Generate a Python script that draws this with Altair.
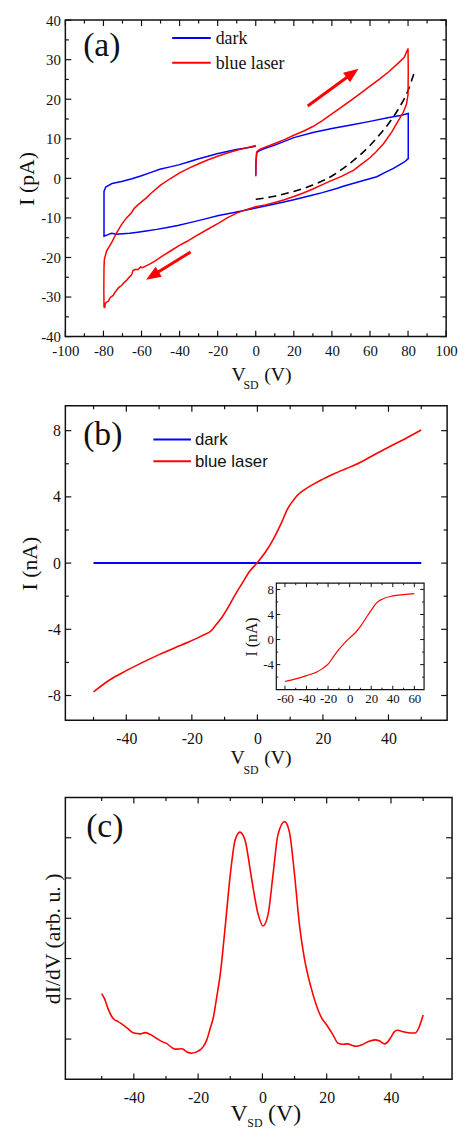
import math
import altair as alt
import pandas as pd

SERIF = "Liberation Serif"
SANS = "Liberation Sans"
BLUE = "#0000ff"
RED = "#ff0000"
INK = "#111111"

# ---------------- panel (a): pA hysteresis loops ----------------
a_dark_v = [0, 0.1, 0.5, 2, 5, 10, 20, 30, 40, 50, 60, 70, 76, 80.1, 80.1, 80.1, 78.3, 75, 72.3, 68,
            63.6, 57, 51.5, 46, 42.9, 35, 30, 20, 10, 0, -10, -19.5, -27, -35.1, -41, -47.2, -52, -57.6, -62, -66.2,
            -70, -73, -75.7, -77, -78.5, -79.7, -79.7, -79.7, -78.8, -77, -75.5, -70.5, -65, -60.4, -55, -50.4, -45, -40.5, -35, -30.4,
            -25, -20.4, -15, -10.2, -5, 0]
a_dark_i = [0.7, 4.0, 6.5, 7.0, 7.6, 8.4, 10.3, 11.6, 12.6, 13.5, 14.4, 15.4, 15.9, 16.4, 10.0, 5.0, 4.2, 3.3, 2.5, 1.5,
            0.4, -0.5, -1.25, -2.0, -2.5, -3.6, -4.2, -5.4, -6.5, -7.5, -8.5, -9.4, -10.3, -11.25, -11.9, -12.5, -12.9, -13.3, -13.6, -13.9,
            -14.0, -14.1, -13.9, -14.1, -14.4, -14.6, -8.0, -3.3, -2.2, -1.7, -1.3, -0.8, -0.1, 0.6, 1.5, 2.3, 2.9, 3.4, 4.2, 4.9,
            5.6, 6.2, 6.8, 7.3, 7.7, 8.1]
a_laser_v = [0, 0.1, 0.5, 2, 5, 10, 15, 20, 25, 30,
             35, 40, 45, 50, 55, 60, 65, 70, 75, 78,
             80, 80.1, 80, 79.2, 77.5, 74.9, 71.4, 67.1, 63, 60,
             55, 51.5, 45, 40, 35, 30, 25, 20, 15, 10,
             5, 0, -5, -10, -15, -19.5, -25, -31.6, -36, -40.3,
             -44.6, -48.9, -53, -55.5, -57.6, -59.5, -60.5, -61.9, -63, -64.5,
             -65.2, -66.5, -67.9, -69.5, -70.5, -72, -73.1, -74.2, -74.9, -75.8,
             -76.6, -77.3, -78.3, -79.0, -79.3, -79.7, -79.8, -79.7, -79.5, -78.3,
             -75.7, -73.1, -70.5, -67.9, -65.4, -64, -61.9, -57.6, -55, -50,
             -45, -40, -35, -30, -25, -20, -15, -10, -5, 0]
a_laser_i = [0.5, 3.5, 6.7, 7.3, 7.9, 8.8, 9.8, 10.9, 11.9, 13.1,
             14.6, 16.3, 18.0, 19.7, 21.5, 23.3, 25.1, 27.0, 29.2, 30.6,
             32.8, 27.0, 21.3, 18.8, 16.7, 14.6, 11.7, 8.75, 6.6, 5.2,
             3.4, 2.1, 0.5, -0.5, -1.6, -2.7, -3.7, -4.6, -5.4, -6.1,
             -6.7, -7.2, -7.9, -8.8, -10.0, -11.3, -12.8, -14.6, -15.9, -17.0,
             -18.3, -19.6, -20.9, -21.6, -22.1, -22.6, -22.4, -23.1, -23.0, -23.3,
             -24.4, -25.0, -25.8, -26.5, -27.1, -27.6, -28.3, -29.0, -29.6, -29.9,
             -30.25, -31.0, -31.25, -31.6, -32.6, -32.5, -28.0, -22.5, -20.4, -18.3,
             -16.25, -13.75, -11.7, -10.0, -8.75, -7.7, -6.7, -5.0, -3.75, -1.7,
             -0.1, 1.4, 2.6, 3.7, 4.7, 5.6, 6.4, 7.1, 7.7, 8.3]
a_fit_v = [0, 10, 20, 30, 40, 45, 50, 55, 60, 65, 70, 75, 80, 83.5]
a_fit_i = [-5.3, -4.5, -3.3, -1.7, 0.6, 2.2, 4.0, 6.0, 8.3, 11.0, 14.0, 17.6, 22.2, 27.1]
a_arrow_tail_v = [27.3, -34.2]
a_arrow_tail_i = [18.3, -18.6]
a_arrow_tip_v = [54.0, -57.6]
a_arrow_tip_i = [27.7, -25.6]
a_xdom = [-100, 100]
a_ydom = [-40, 40]
a_xticks = [-100, -80, -60, -40, -20, 0, 20, 40, 60, 80, 100]
a_xminor = [-90, -70, -50, -30, -10, 10, 30, 50, 70, 90]
a_yticks = [-40, -30, -20, -10, 0, 10, 20, 30, 40]
a_yminor = [-35, -25, -15, -5, 5, 15, 25, 35]

# ---------------- panel (b): nA I-V ----------------
b_dark_v = [-50, 50]
b_dark_i = [0, 0]
b_laser_v = [-50, -45, -40, -35, -30, -25, -21, -17, -14, -12.5,
             -10.8, -9.3, -7.8, -6.3, -4.8, -2.3, 0, 2.3, 4.8, 7.3,
             9.3, 11, 12.3, 14.5, 17.4, 20, 23.4, 27, 30, 35,
             40, 45, 50]
b_laser_i = [-7.78, -7.05, -6.5, -6.0, -5.53, -5.1, -4.77, -4.4, -4.07, -3.7,
             -3.27, -2.8, -2.27, -1.75, -1.27, -0.48, 0.03, 0.62, 1.42, 2.41,
             3.31, 3.8, 4.11, 4.45, 4.8, 5.07, 5.4, 5.7, 5.95, 6.47,
             7.0, 7.5, 8.04]
b_xdom = [-58.6, 57.9]
b_ydom = [-9.5, 9.5]
b_xticks = [-40, -20, 0, 20, 40]
b_xminor = [-50, -30, -10, 10, 30, 50]
b_yticks = [-8, -4, 0, 4, 8]
b_yminor = [-6, -2, 2, 6]

# inset of (b)
ins_v = [-60, -50, -40, -30, -25, -20, -15, -10, -5, 0, 5, 10, 15, 20, 25, 30, 40, 50, 60]
ins_i = [-6.7, -6.28, -5.76, -5.13, -4.6, -3.93, -2.72, -1.57, -0.6, 0.26, 1.05, 2.1, 3.4, 4.7, 5.86, 6.44, 6.96, 7.17, 7.33]
ins_xdom = [-68, 69]
ins_ydom = [-8, 9]
ins_xticks = [-60, -40, -20, 0, 20, 40, 60]
ins_xminor = [-50, -30, -10, 10, 30, 50]
ins_yticks = [-4, 0, 4, 8]
ins_yminor = [-6, -2, 2, 6]

# ---------------- panel (c): dI/dV ----------------
c_v = [-50, -49, -48, -47, -46, -45, -44, -42, -40, -38,
       -36.5, -35, -33, -31, -30, -28, -27, -25, -23.5, -22,
       -20, -18.5, -17.3, -16.3, -15.2, -14.2, -13.1, -11.6, -10.0, -8.5,
       -7.0, -5.4, -3.4, -1.3, 0.2, 1.75, 3.3, 4.8, 6.9, 8.4,
       10, 11.5, 13.0, 15.1, 18.2, 20, 22, 23.5, 25, 26.5,
       28, 29, 31, 33, 35, 36.5, 38, 39, 40, 41,
       42, 44, 46, 47.5, 48.5, 49.3, 50]
c_d = [2.13, 1.98, 1.75, 1.58, 1.48, 1.44, 1.39, 1.27, 1.15, 1.13,
       1.16, 1.12, 1.02, 0.93, 0.9, 0.78, 0.75, 0.76, 0.68, 0.65,
       0.7, 0.8, 0.98, 1.25, 1.56, 2.05, 2.62, 3.77, 5.08, 5.94,
       6.14, 5.94, 5.0, 4.09, 3.81, 4.09, 5.08, 6.06, 6.40, 6.14,
       5.08, 3.85, 3.03, 2.29, 1.56, 1.35, 1.1, 0.9, 0.87, 0.88,
       0.84, 0.82, 0.86, 0.94, 0.98, 0.95, 0.88, 0.93, 1.05, 1.18,
       1.22, 1.18, 1.15, 1.15, 1.25, 1.42, 1.6]
c_xdom = [-61.3, 59.0]
c_ydom = [0, 7]
c_xticks = [-40, -20, 0, 20, 40]
c_xminor = [-50, -30, -10, 10, 30, 50]
c_yticks = [1, 2, 3, 4, 5, 6]

legend_labels = ["dark", "blue laser"]

WA, WB, WC = 385, 386, 391
HA, HB, HC = 320, 318, 285


def sc(dom, rng=None):
    if rng is None:
        return alt.Scale(domain=dom, nice=False, zero=False)
    return alt.Scale(domain=dom, range=rng, nice=False, zero=False)


def lab_axis(orient, values, size, pad, title=None, tsize=22, tpad=3, labels=True, offset=0):
    kw = dict(orient=orient, values=values, ticks=False, tickSize=0, domain=False, grid=False,
              labels=labels, labelFont=SERIF, labelFontSize=size, labelColor=INK,
              labelPadding=pad, labelFlush=False, labelOverlap=False,
              labelExpr="toString(datum.value)", offset=offset)
    if title:
        kw.update(title=title, titleFont=SERIF, titleFontSize=tsize, titleFontWeight="normal",
                  titleColor=INK, titlePadding=tpad)
    else:
        kw["title"] = None
    return alt.Axis(**kw)


def tick_layers(xs, ys, xdom, ydom, xmaj, xmin, ymaj, ymin, L, l, w=1.2):
    out = []
    for vals, ln in ((xmaj, L), (xmin, l)):
        if not vals:
            continue
        src = alt.Chart(pd.DataFrame({"t": vals}))
        X = alt.X("t:Q", scale=xs, axis=None)
        out.append(src.mark_rule(color=INK, strokeWidth=w, y2Offset=-ln).encode(
            x=X, y=alt.YDatum(ydom[0], type="quantitative", scale=ys, axis=None),
            y2=alt.Y2Datum(ydom[0])))
        out.append(src.mark_rule(color=INK, strokeWidth=w, y2Offset=ln).encode(
            x=X, y=alt.YDatum(ydom[1], type="quantitative", scale=ys, axis=None),
            y2=alt.Y2Datum(ydom[1])))
    for vals, ln in ((ymaj, L), (ymin, l)):
        if not vals:
            continue
        src = alt.Chart(pd.DataFrame({"t": vals}))
        Y = alt.Y("t:Q", scale=ys, axis=None)
        out.append(src.mark_rule(color=INK, strokeWidth=w, x2Offset=ln).encode(
            y=Y, x=alt.XDatum(xdom[0], type="quantitative", scale=xs, axis=None),
            x2=alt.X2Datum(xdom[0])))
        out.append(src.mark_rule(color=INK, strokeWidth=w, x2Offset=-ln).encode(
            y=Y, x=alt.XDatum(xdom[1], type="quantitative", scale=xs, axis=None),
            x2=alt.X2Datum(xdom[1])))
    return out


def txt(s, x, y, size, font=SERIF, baseline="alphabetic"):
    return alt.Chart(pd.DataFrame({"s": [s]})).mark_text(
        font=font, fontSize=size, align="left", baseline=baseline, color=INK
    ).encode(x=alt.value(x), y=alt.value(y), text="s:N")


def seg(color, x1, x2, y, w=2):
    return alt.Chart(pd.DataFrame({"s": [0]})).mark_rule(color=color, strokeWidth=w).encode(
        x=alt.value(x1), x2=alt.value(x2), y=alt.value(y), y2=alt.value(y))


def xtitle(xv, xsd, xp, yb, ysd, big, small):
    return [txt("V", xv, yb, big), txt("SD", xsd, ysd, small), txt("(V)", xp, yb, big)]


def legend(x1, x2, xt, y1, y2, size, font):
    return [seg(BLUE, x1, x2, y1), seg(RED, x1, x2, y2),
            txt(legend_labels[0], xt, y1 + 1, size, font, "middle"),
            txt(legend_labels[1], xt, y2 + 1, size, font, "middle")]


def series(v, i):
    return pd.DataFrame({"V": v, "I": i, "k": list(range(len(v)))})


def indep_axes(layer):
    return layer.resolve_axis(x="independent", y="independent")


# ================= panel (a) =================
xa, ya = sc(a_xdom), sc(a_ydom)
fit = alt.Chart(series(a_fit_v, a_fit_i)).mark_line(
    color="black", strokeWidth=1.6, strokeDash=[8, 5], interpolate="monotone").encode(
    x=alt.X("V:Q", scale=xa, axis=None), y=alt.Y("I:Q", scale=ya, axis=None), order="k:Q")
dark_a = alt.Chart(series(a_dark_v, a_dark_i)).mark_line(color=BLUE, strokeWidth=1.5).encode(
    x=alt.X("V:Q", scale=xa, axis=lab_axis("bottom", a_xticks, 15, 7)),
    y=alt.Y("I:Q", scale=ya, axis=lab_axis("left", a_yticks, 15, 5, "I (pA)", 22, 2)),
    order="k:Q")
laser_a = alt.Chart(series(a_laser_v, a_laser_i)).mark_line(color=RED, strokeWidth=1.5).encode(
    x=alt.X("V:Q", scale=xa, axis=None), y=alt.Y("I:Q", scale=ya, axis=None), order="k:Q")

ppv = WA / (a_xdom[1] - a_xdom[0])
ppi = HA / (a_ydom[1] - a_ydom[0])
arrows = []
for k in range(2):
    dv = a_arrow_tip_v[k] - a_arrow_tail_v[k]
    di = a_arrow_tip_i[k] - a_arrow_tail_i[k]
    ang = math.degrees(math.atan2(dv * ppv, di * ppi)) % 360
    body = pd.DataFrame({"V": [a_arrow_tail_v[k]], "I": [a_arrow_tail_i[k]],
                         "V2": [a_arrow_tail_v[k] + 0.8 * dv], "I2": [a_arrow_tail_i[k] + 0.8 * di]})
    arrows.append(alt.Chart(body).mark_rule(color=RED, strokeWidth=3).encode(
        x=alt.X("V:Q", scale=xa, axis=None), y=alt.Y("I:Q", scale=ya, axis=None),
        x2="V2:Q", y2="I2:Q"))
    head = pd.DataFrame({"V": [a_arrow_tip_v[k]], "I": [a_arrow_tip_i[k]]})
    arrows.append(alt.Chart(head).mark_point(
        shape="M0,0L0.55,1.4L-0.55,1.4Z", filled=True, color=RED, opacity=1, size=460,
        angle=ang, strokeWidth=0).encode(
        x=alt.X("V:Q", scale=xa, axis=None), y=alt.Y("I:Q", scale=ya, axis=None)))

pa = indep_axes(alt.layer(
    *tick_layers(xa, ya, a_xdom, a_ydom, a_xticks, a_xminor, a_yticks, a_yminor, 6, 3.5),
    fit, dark_a, laser_a, *arrows,
    *legend(108, 147, 152, 18, 43, 18, SERIF),
    txt("(a)", 18, 36, 34),
    *xtitle(168, 180, 201, 365, 373, 20, 12),
)).properties(width=WA, height=HA)

# ================= panel (b) =================
xb, yb = sc(b_xdom), sc(b_ydom)
dark_b = alt.Chart(series(b_dark_v, b_dark_i)).mark_line(color=BLUE, strokeWidth=2).encode(
    x=alt.X("V:Q", scale=xb, axis=lab_axis("bottom", b_xticks, 16, 10)),
    y=alt.Y("I:Q", scale=yb, axis=lab_axis("left", b_yticks, 16, 5, "I (nA)", 22, 6)),
    order="k:Q")
laser_b = alt.Chart(series(b_laser_v, b_laser_i)).mark_line(
    color=RED, strokeWidth=1.6, interpolate="monotone").encode(
    x=alt.X("V:Q", scale=xb, axis=None), y=alt.Y("I:Q", scale=yb, axis=None), order="k:Q")
main_b = indep_axes(alt.layer(
    *tick_layers(xb, yb, b_xdom, b_ydom, b_xticks, b_xminor, b_yticks, b_yminor, 6, 3.5),
    dark_b, laser_b,
    *legend(89, 127, 131, 34, 56, 17, SANS),
    txt("(b)", 18, 40, 34),
    *xtitle(167, 180, 201, 362, 372, 20, 12),
))

IX = [213.3, 362.7]
IY = [287, 179.3]
xi, yi = sc(ins_xdom, IX), sc(ins_ydom, IY)
ins_frame = alt.Chart(pd.DataFrame({"s": [0]})).mark_rect(
    fill="white", stroke=INK, strokeWidth=1.2).encode(
    x=alt.XDatum(ins_xdom[0], type="quantitative", scale=xi, axis=None),
    x2=alt.X2Datum(ins_xdom[1]),
    y=alt.YDatum(ins_ydom[0], type="quantitative", scale=yi, axis=None),
    y2=alt.Y2Datum(ins_ydom[1]))
ins_line = alt.Chart(series(ins_v, ins_i)).mark_line(
    color=RED, strokeWidth=1.2, interpolate="monotone").encode(
    x=alt.X("V:Q", scale=xi, axis=lab_axis("bottom", ins_xticks, 13, 3, offset=IY[0] - HB)),
    y=alt.Y("I:Q", scale=yi, axis=lab_axis("left", ins_yticks, 13, 3, "I (nA)", 16, 3, offset=-IX[0])),
    order="k:Q")
inset = indep_axes(alt.layer(
    ins_frame,
    *tick_layers(xi, yi, ins_xdom, ins_ydom, ins_xticks, ins_xminor, ins_yticks, ins_yminor, 4, 2, 1),
    ins_line,
))
pb = alt.layer(main_b, inset).resolve_scale(x="independent", y="independent").resolve_axis(
    x="independent", y="independent").properties(width=WB, height=HB)

# ================= panel (c) =================
xc, yc = sc(c_xdom), sc(c_ydom)
line_c = alt.Chart(series(c_v, c_d)).mark_line(
    color=RED, strokeWidth=1.6, interpolate="monotone").encode(
    x=alt.X("V:Q", scale=xc, axis=lab_axis("bottom", c_xticks, 16, 10)),
    y=alt.Y("I:Q", scale=yc, axis=lab_axis("left", [], 16, 5, "dI/dV (arb. u. )", 22, 1, labels=False)),
    order="k:Q")
spacer = alt.Chart(pd.DataFrame({"s": [0]})).mark_rule(strokeOpacity=0, color="white").encode(
    x=alt.value(0), x2=alt.value(10), y=alt.value(-8), y2=alt.value(-8))
pc = indep_axes(alt.layer(
    *tick_layers(xc, yc, c_xdom, c_ydom, c_xticks, c_xminor, c_yticks, [], 6, 3.5),
    line_c, spacer,
    txt("(c)", 21, 40, 34),
    *xtitle(167, 184, 205, 327, 333, 24, 12),
)).properties(width=WC, height=HC)

chart = alt.vconcat(pa, pb, pc, spacing=12).properties(
    padding={"left": 7, "top": -2, "right": 0, "bottom": -3}
).configure_view(stroke=INK, strokeWidth=1.5)

chart.save("out.html", embed_options={"renderer": "svg", "actions": False})
